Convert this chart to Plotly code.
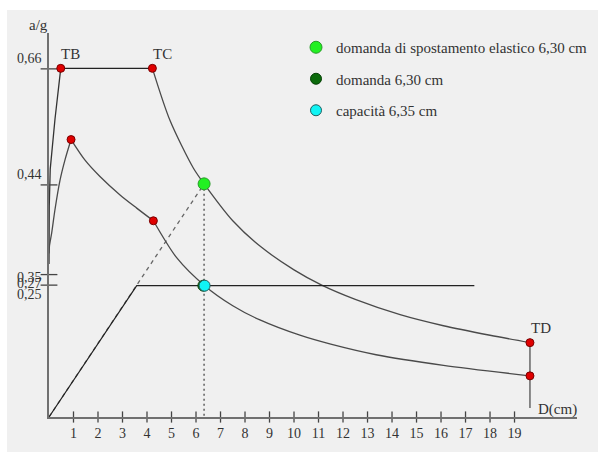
import plotly.graph_objects as go

# ---------------- data ----------------
# elastic demand spectrum (ADRS), rising branch, plateau TB-TC, decaying branch
el_rise_D = [0.0, 0.0, 0.01, 0.05, 0.245, 0.48]
el_rise_a = [0.29, 0.35, 0.40, 0.47, 0.565, 0.661]
el_plat_D = [0.48, 4.22]
el_plat_a = [0.661, 0.661]
el_dec_D = [4.22, 4.94, 5.89, 6.33, 7.5, 8.61, 10.0, 11.13, 12.5, 14.33, 16.1, 18.0, 19.63]
el_dec_a = [0.661, 0.562, 0.472, 0.442, 0.372, 0.324, 0.279, 0.250, 0.223, 0.194, 0.173, 0.155, 0.141]

# reduced (inelastic) demand spectrum
in_rise_D = [0.0, 0.02, 0.11, 0.24, 0.45, 0.65, 0.90]
in_rise_a = [0.31, 0.325, 0.349, 0.392, 0.449, 0.487, 0.526]
in_mid_D = [0.90, 1.47, 2.08, 2.90, 3.58, 4.26]
in_mid_a = [0.526, 0.487, 0.456, 0.421, 0.396, 0.372]
in_dec_D = [4.26, 5.21, 6.35, 7.5, 8.61, 10.24, 11.5, 13.35, 16.1, 19.63]
in_dec_a = [0.372, 0.302, 0.249, 0.211, 0.184, 0.155, 0.138, 0.118, 0.098, 0.078]

# capacity (bilinear) curve
cap_D = [0.0, 3.58, 17.36]
cap_a = [0.0, 0.249, 0.249]

# corner points of the spectra
red_D = [0.48, 4.22, 19.63, 0.90, 4.26, 19.63]
red_a = [0.661, 0.661, 0.141, 0.526, 0.372, 0.078]

# performance points
pt_el_D, pt_el_a = 6.33, 0.442      # domanda di spostamento elastico
pt_dem_D, pt_dem_a = 6.30, 0.249    # domanda
pt_cap_D, pt_cap_a = 6.35, 0.249    # capacita
td_line_a = [0.141, 0.017]

legend_names = ["domanda di spostamento elastico 6,30 cm", "domanda 6,30 cm", "capacità 6,35 cm"]
corner_labels = ["TB", "TC", "TD"]

x_tick_vals = list(range(1, 20))
y_tick_vals = [0.66, 0.44, 0.27, 0.25]
y_tick_labels = ["0,66", "0,44", "0,35", "0,27", "0,25"]

# ---------------- layout geometry ----------------
W, H = 599, 456
ML, MR, MT, MB = 49, 22, 33, 39
XR = [0, 21.55]
YR = [0, 0.728]
PW, PH = W - ML - MR, H - MT - MB


def px(xp):
    return (xp - ML) / PW


def py(yp):
    return (H - MB - yp) / PH


FONT = "Liberation Serif"
TXT = "#333333"
CURVE = "#4a4a4a"
AXC = "#707070"

fig = go.Figure()


def line(xs, ys, color=CURVE, width=1.3, dash="solid", shape="linear"):
    fig.add_trace(go.Scatter(x=xs, y=ys, mode="lines", showlegend=False, hoverinfo="skip",
                             line=dict(color=color, width=width, dash=dash, shape=shape, smoothing=0.8)))


# dashed elastic stiffness line (origin -> elastic demand)
line([0, pt_el_D], [0, pt_el_a], color="#666666", width=1.3, dash="4px,4px")
# dotted vertical at the demand displacement
line([pt_el_D, pt_el_D], [pt_el_a, 0], color="#777777", width=1.8, dash="2px,3px")
# vertical at TD
line([red_D[2], red_D[2]], td_line_a, color="#666666", width=1.5)

line(el_rise_D, el_rise_a, color="#333333")
line(el_plat_D, el_plat_a, color="#222222", width=1.2)
line(el_dec_D, el_dec_a, shape="spline")
line(in_rise_D, in_rise_a, shape="spline")
line(in_mid_D, in_mid_a, shape="spline")
line(in_dec_D, in_dec_a, shape="spline")
line(cap_D, cap_a, color="#222222", width=1.2)

# axis tick marks (crossing the axis)
fig.add_trace(go.Scatter(x=x_tick_vals, y=[0] * len(x_tick_vals), mode="markers", showlegend=False,
                         hoverinfo="skip", cliponaxis=False,
                         marker=dict(symbol="line-ns", size=8, line=dict(color="#444444", width=1.3))))
fig.add_trace(go.Scatter(x=[0] * len(y_tick_vals), y=y_tick_vals, mode="markers", showlegend=False,
                         hoverinfo="skip", cliponaxis=False,
                         marker=dict(symbol="line-ew", size=12, line=dict(color="#444444", width=1.3))))

# red corner points
fig.add_trace(go.Scatter(x=red_D, y=red_a, mode="markers", showlegend=False, hoverinfo="skip",
                         cliponaxis=False,
                         marker=dict(size=8, color="#e00000", line=dict(color="#7a0000", width=1))))

# performance points (legend entries)
fig.add_trace(go.Scatter(x=[pt_el_D], y=[pt_el_a], mode="markers", name=legend_names[0],
                         legendgroup="a",
                         marker=dict(size=12, color="#22f022", line=dict(color="#2a9a2a", width=1))))
fig.add_trace(go.Scatter(x=[pt_dem_D], y=[pt_dem_a], mode="markers", name=legend_names[1],
                         legendgroup="b",
                         marker=dict(size=11, color="#0b6b0b", line=dict(color="#064006", width=1))))
fig.add_trace(go.Scatter(x=[pt_cap_D], y=[pt_cap_a], mode="markers", name=legend_names[2],
                         legendgroup="c",
                         marker=dict(size=11, color="#10f4f4", line=dict(color="#206060", width=1))))

annotations = []
# corner labels
for lab, (xp, yp) in zip(corner_labels, [(70, 54), (162, 54), (541, 328)]):
    annotations.append(dict(text=lab, x=px(xp), y=py(yp), xref="paper", yref="paper", showarrow=False,
                            font=dict(family=FONT, size=15, color=TXT), xanchor="center", yanchor="middle"))
# axis titles
annotations.append(dict(text="a/g", x=px(38), y=py(25), xref="paper", yref="paper", showarrow=False,
                        font=dict(family=FONT, size=15, color=TXT), xanchor="center", yanchor="middle"))
annotations.append(dict(text="D(cm)", x=px(557), y=py(409), xref="paper", yref="paper", showarrow=False,
                        font=dict(family=FONT, size=15, color=TXT), xanchor="center", yanchor="middle"))
# y tick labels (placed as in the reference, partly overlapping)
for lab, yp in zip(y_tick_labels, [58.5, 174.5, 277, 283, 294]):
    annotations.append(dict(text=lab, x=px(44), y=py(yp), xref="paper", yref="paper", showarrow=False,
                            font=dict(family=FONT, size=14, color=TXT), xanchor="right", yanchor="middle"))

fig.update_layout(
    width=W, height=H,
    margin=dict(l=ML, r=MR, t=MT, b=MB, pad=0, autoexpand=False),
    paper_bgcolor="white",
    plot_bgcolor="rgba(0,0,0,0)",
    font=dict(family=FONT, size=14, color=TXT),
    xaxis=dict(range=XR, showgrid=False, zeroline=False, showline=True, linecolor=AXC, linewidth=2,
               tickvals=x_tick_vals, ticktext=[str(v) for v in x_tick_vals], ticks="outside",
               ticklen=2, tickcolor="rgba(0,0,0,0)", tickfont=dict(family=FONT, size=14, color=TXT)),
    yaxis=dict(range=YR, showgrid=False, zeroline=False, showline=True, linecolor=AXC, linewidth=2,
               showticklabels=False, ticks=""),
    legend=dict(x=px(296), y=py(31), xanchor="left", yanchor="top", bgcolor="rgba(0,0,0,0)",
                font=dict(family=FONT, size=15, color=TXT), tracegroupgap=9, itemclick=False),
    shapes=[dict(type="rect", xref="paper", yref="paper", x0=px(7), x1=px(598), y0=py(452), y1=py(10),
                 fillcolor="#f0f0f0", line=dict(width=0), layer="below")],
    annotations=annotations,
)

fig.write_html("out.html")
